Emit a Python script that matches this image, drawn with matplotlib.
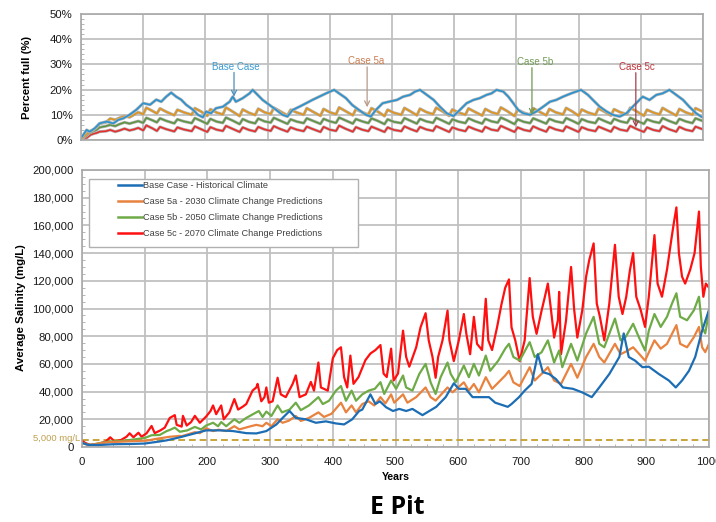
import matplotlib
matplotlib.use("Agg")
import matplotlib.pyplot as plt
import matplotlib.patheffects as pe
from matplotlib.lines import Line2D
from matplotlib.patches import Rectangle
from matplotlib.ticker import MultipleLocator, FuncFormatter
import numpy as np

plt.rcParams['font.family'] = ['Liberation Sans', 'DejaVu Sans']

# ---------------- Percent full (%) ----------------
base_pct_years = [0, 9, 14, 22, 30, 41, 52, 60, 68, 78, 89, 100, 111, 121, 129, 137, 145, 153, 161,
                  169, 180, 188, 196, 201, 209, 217, 228, 239, 244, 249, 260, 271, 276, 284, 292,
                  303, 314, 324, 332, 340, 351, 362, 372, 383, 394, 407, 415, 426, 436, 447, 458,
                  466, 474, 485, 495, 508, 518, 529, 537, 545, 556, 567, 577, 588, 599, 609, 620,
                  631, 641, 652, 660, 668, 679, 687, 695, 703, 711, 722, 732, 743, 754, 764, 775,
                  788, 804, 815, 823, 834, 845, 855, 866, 877, 887, 895, 903, 914, 925, 935, 946,
                  957, 968, 978, 989, 997, 1000]
base_pct = [0.7, 4.0, 3.3, 4.6, 6.6, 7.3, 6.6, 8.0, 8.6, 10.0, 12.0, 14.6, 14.0, 16.0, 15.2, 17.2,
            18.8, 17.2, 16.0, 14.0, 12.0, 10.0, 9.0, 11.3, 10.6, 12.6, 13.2, 15.2, 17.2, 15.2, 16.6,
            18.5, 19.9, 17.9, 15.9, 13.9, 11.9, 10.0, 9.3, 11.9, 13.2, 14.6, 15.9, 17.2, 18.5, 19.9,
            18.5, 16.6, 13.9, 11.9, 10.0, 9.3, 11.9, 14.6, 15.2, 15.9, 17.2, 17.9, 19.2, 19.9, 17.9,
            15.9, 13.2, 10.6, 9.5, 11.9, 14.6, 15.9, 16.6, 17.9, 18.5, 19.9, 19.2, 17.2, 14.6, 11.9,
            10.6, 10.0, 11.3, 13.2, 15.2, 15.9, 17.2, 18.5, 19.9, 17.9, 15.9, 13.2, 11.3, 10.0, 9.3,
            10.6, 13.2, 15.2, 17.2, 15.9, 17.9, 18.5, 19.9, 17.9, 15.9, 13.2, 10.6, 9.3, 9.0]

pct_years = [0, 5, 10, 15, 20, 25, 30, 40, 47, 55, 62, 70, 78, 85, 92,
             100, 105, 115, 122, 127, 137, 150, 155, 165, 178, 183, 193, 203, 208, 218,
             228, 233, 243, 255, 260, 270, 280, 285, 295, 305, 310, 320, 332, 337, 347,
             358, 363, 373, 385, 390, 400, 410, 415, 425, 437, 442, 452, 462, 467, 477,
             488, 493, 503, 515, 520, 530, 540, 545, 555, 566, 571, 581, 592, 597, 607,
             618, 623, 633, 645, 650, 660, 670, 675, 685, 697, 702, 712, 722, 727, 737,
             748, 753, 763, 775, 780, 790, 800, 805, 815, 827, 832, 842, 852, 857, 867,
             878, 883, 893, 905, 910, 920, 930, 935, 945, 957, 962, 972, 983, 988, 1000]
case5a_pct = [0, 1.5, 2.5, 3.5, 4.0, 5.0, 6.5, 7.0, 8.5, 8.0, 8.8, 9.5, 9.0, 10.0, 11.0,
              10.2, 12.8, 11.5, 10.5, 12.5, 11.2, 9.8, 12.0, 11.0, 10.0, 12.6, 11.3, 9.6, 12.2, 10.9,
              10.1, 12.9, 11.4, 9.5, 12.1, 10.8, 9.9, 12.4, 11.0, 10.3, 12.8, 11.4, 9.7, 12.0, 10.9,
              10.0, 12.6, 11.2, 9.6, 12.3, 11.0, 10.2, 12.9, 11.5, 9.8, 12.2, 11.0, 10.1, 12.6, 11.3,
              9.5, 12.0, 10.8, 10.0, 12.7, 11.3, 9.8, 12.4, 11.1, 10.2, 12.8, 11.4, 9.6, 12.1, 10.9,
              10.0, 12.5, 11.2, 9.7, 12.3, 11.0, 10.3, 12.9, 11.5, 9.5, 12.0, 10.8, 10.0, 12.6, 11.2,
              9.8, 12.3, 11.0, 10.1, 12.7, 11.3, 9.6, 12.1, 10.9, 10.0, 12.5, 11.2, 9.7, 12.2, 11.0,
              10.2, 12.8, 11.4, 9.6, 12.0, 10.9, 10.1, 12.7, 11.3, 9.7, 12.3, 11.0, 10.0, 12.6, 11.2]
case5b_pct = [0, 1.0, 2.0, 3.0, 3.5, 4.0, 5.0, 5.5, 6.0, 5.5, 6.3, 7.0, 6.5, 7.0, 7.5,
              6.8, 8.8, 7.8, 7.0, 8.6, 7.6, 6.6, 8.2, 7.4, 6.7, 8.7, 7.6, 6.4, 8.4, 7.3,
              6.8, 8.9, 7.8, 6.3, 8.3, 7.2, 6.6, 8.5, 7.4, 6.9, 8.8, 7.7, 6.4, 8.2, 7.3,
              6.7, 8.6, 7.6, 6.4, 8.4, 7.4, 6.8, 8.9, 7.8, 6.5, 8.3, 7.4, 6.7, 8.6, 7.6,
              6.3, 8.2, 7.2, 6.7, 8.7, 7.6, 6.5, 8.4, 7.4, 6.8, 8.8, 7.7, 6.4, 8.2, 7.3,
              6.7, 8.6, 7.5, 6.5, 8.4, 7.4, 6.9, 8.9, 7.8, 6.3, 8.2, 7.2, 6.7, 8.6, 7.6,
              6.5, 8.4, 7.4, 6.8, 8.7, 7.6, 6.4, 8.3, 7.3, 6.7, 8.6, 7.5, 6.5, 8.4, 7.4,
              6.8, 8.8, 7.7, 6.4, 8.2, 7.3, 6.8, 8.7, 7.6, 6.5, 8.4, 7.4, 6.7, 8.6, 7.5]
case5c_pct = [0, 0.5, 1.0, 2.0, 2.5, 2.8, 3.3, 3.5, 4.0, 3.3, 3.8, 4.5, 3.8, 4.2, 4.8,
              3.8, 5.8, 4.6, 3.6, 5.2, 4.3, 3.4, 5.0, 4.2, 3.5, 5.4, 4.3, 3.2, 5.1, 4.1,
              3.6, 5.6, 4.5, 3.2, 5.0, 4.0, 3.4, 5.2, 4.2, 3.6, 5.5, 4.4, 3.3, 5.0, 4.1,
              3.5, 5.3, 4.3, 3.2, 5.2, 4.1, 3.6, 5.7, 4.5, 3.3, 5.1, 4.1, 3.5, 5.3, 4.3,
              3.2, 5.0, 4.0, 3.5, 5.4, 4.3, 3.4, 5.2, 4.2, 3.6, 5.5, 4.4, 3.2, 5.0, 4.1,
              3.5, 5.3, 4.3, 3.3, 5.2, 4.1, 3.7, 5.6, 4.5, 3.2, 5.0, 4.0, 3.5, 5.4, 4.3,
              3.3, 5.2, 4.2, 3.5, 5.4, 4.3, 3.2, 5.1, 4.1, 3.5, 5.3, 4.3, 3.3, 5.2, 4.1,
              3.6, 5.6, 4.4, 3.2, 5.0, 4.0, 3.5, 5.5, 4.3, 3.3, 5.2, 4.1, 3.5, 5.3, 4.2]

# ---------------- Average salinity (thousand mg/L) ----------------
base_sal_years = [0, 10, 30, 50, 80, 100, 124, 135, 156, 177, 198, 220, 241, 262, 278, 294, 310,
                  320, 331, 341, 357, 373, 389, 405, 418, 431, 442, 447, 460, 468, 475, 485, 496,
                  506, 517, 527, 543, 554, 565, 580, 593, 601, 612, 623, 633, 649, 659, 679, 685,
                  697, 706, 717, 727, 735, 745, 756, 767, 783, 798, 813, 825, 841, 857, 864, 872,
                  882, 894, 904, 920, 936, 947, 957, 968, 978, 989, 1000]
base_sal = [3, 1.5, 1.5, 2, 2.2, 2.5, 4, 4.8, 7, 9.5, 12, 12, 11.5, 10, 9.8, 11.5, 16.3,
            21, 26, 21, 20, 17.5, 18.5, 17, 16.3, 20, 26, 27, 38, 31, 33, 28.7, 26,
            27.5, 26, 27.5, 23, 26, 29, 36, 46, 42, 42, 36, 36, 36, 32, 29, 31,
            36, 40.7, 45.5, 67, 54, 52.7, 49, 43, 42, 39.4, 36, 43, 52.7, 65, 82, 65,
            62.4, 57.6, 58, 52.7, 48, 43, 48, 55, 65, 84, 99]

case5a_sal_years = [0, 10, 20, 30, 45, 60, 80, 103, 120, 140, 156, 159, 180, 188, 198, 209, 218,
                    230, 243, 251, 265, 278, 288, 294, 302, 312, 320, 330, 341, 349, 362, 377,
                    386, 398, 413, 421, 430, 437, 442, 447, 457, 466, 476, 484, 493, 498, 512,
                    519, 533, 548, 556, 564, 583, 591, 609, 617, 625, 633, 644, 654, 665, 675,
                    681, 688, 698, 714, 722, 733, 743, 753, 764, 780, 790, 804, 816, 825, 833,
                    850, 859, 868, 879, 891, 898, 913, 923, 933, 948, 954, 965, 976, 984, 989,
                    994, 1000]
case5a_sal = [3, 1.5, 2, 2.8, 3.5, 3.8, 4.2, 4.6, 6, 7.4, 8, 7.8, 10.7, 10, 13.5, 11.5, 12.5,
              11.5, 15, 12.7, 14.5, 16, 15, 17.5, 15, 20, 17.5, 19, 22.4, 18.8, 21, 25,
              21.7, 24, 32, 25, 30, 25, 28, 31, 33, 30, 36, 31.5, 38, 32, 38,
              32, 36, 43, 36, 33.5, 43, 39.5, 46.7, 40.7, 45.5, 39.5, 50.4, 42, 47, 51.6,
              55, 46.7, 44, 57.6, 48, 52.8, 57.6, 48, 45.5, 60, 50, 65, 74.5, 65, 61,
              74.5, 67, 69, 72, 66, 62.4, 77, 71, 74.5, 88, 74.5, 72, 79.4, 86.7, 72,
              68.5, 74.5]

case5b_sal_years = [0, 10, 20, 30, 45, 60, 82, 100, 111, 124, 135, 140, 148, 156, 168, 180, 190,
                    198, 209, 217, 222, 230, 243, 251, 262, 278, 282, 288, 294, 302, 312, 319,
                    331, 341, 349, 362, 377, 384, 394, 405, 413, 421, 430, 437, 447, 457, 467,
                    476, 482, 493, 501, 512, 517, 527, 538, 548, 556, 564, 572, 583, 588, 596,
                    609, 617, 625, 633, 644, 651, 664, 675, 681, 688, 698, 714, 722, 733, 743,
                    753, 761, 766, 780, 790, 804, 816, 825, 833, 850, 859, 867, 879, 888, 898,
                    904, 913, 923, 933, 941, 948, 954, 965, 976, 984, 989, 994, 1000]
case5b_sal = [3, 1.5, 2, 3, 4, 4.2, 5.4, 6.5, 8.5, 8.7, 11.5, 12.3, 14, 11, 12, 14.5, 12.7,
              15.5, 17.5, 15, 18, 15, 20, 17.5, 21, 25, 26, 21.7, 25.6, 22.4, 30, 25,
              27, 32, 26.6, 30, 36, 31, 33.4, 40.7, 44, 33.4, 40.7, 33.4, 38, 40.7, 42,
              46.8, 38.3, 48, 42, 51.6, 43, 40.7, 52.8, 60, 46.7, 38.3, 50.4, 61, 52.8, 46.7,
              58.8, 50.4, 60, 51.6, 66, 55, 62.4, 71, 74.5, 65, 62.4, 75.7, 65, 68.4, 77,
              61, 69.7, 57.6, 74.5, 62.4, 82, 94, 74.5, 72, 92.7, 77, 79.4, 89, 79.4, 69.7,
              84, 96, 86.7, 94, 103.6, 111, 94, 91.5, 98.8, 108.5, 86.7, 82, 98]

case5c_sal_years = [0, 5, 13, 22, 29, 38, 45, 52, 62, 71, 76, 82, 90, 95, 103, 111, 116, 125, 132,
                    140, 148, 151, 159, 161, 167, 174, 180, 188, 198, 205, 209, 214, 222, 226,
                    235, 243, 249, 256, 262, 272, 278, 280, 286, 291, 294, 298, 304, 312, 317,
                    325, 336, 341, 347, 357, 365, 370, 377, 381, 392, 400, 407, 413, 418, 423,
                    428, 433, 441, 452, 460, 468, 476, 481, 486, 493, 497, 504, 512, 517, 522,
                    533, 540, 548, 553, 559, 564, 568, 575, 583, 586, 593, 601, 609, 613, 619,
                    625, 630, 638, 644, 648, 654, 662, 669, 675, 681, 685, 691, 698, 706, 714,
                    719, 725, 733, 738, 743, 748, 753, 759, 761, 764, 772, 780, 785, 790, 798,
                    804, 809, 816, 821, 826, 833, 841, 850, 856, 862, 868, 874, 879, 884, 891,
                    898, 904, 913, 918, 925, 933, 940, 944, 948, 952, 957, 962, 970, 977, 984,
                    987, 991, 995, 1000]
case5c_sal = [4.5, 3, 1.4, 1.8, 2.6, 4, 7, 4, 5, 7.4, 9.9, 7, 10.3, 7.4, 9.9, 15.2, 10, 12, 14,
              21, 23, 16, 14.7, 22.5, 15.5, 18, 22.5, 17.5, 22, 26, 30, 23.7, 30, 20,
              25, 34.6, 27, 29, 31, 40.7, 43, 45.6, 33, 36, 43, 32, 33, 50, 38,
              36, 45.6, 51.7, 36, 38, 47, 40.7, 61, 43, 40.7, 64, 70, 72, 50.5, 43,
              66, 45.6, 50.5, 62.7, 67.5, 70, 73.6, 53, 50.5, 71, 48, 53, 84, 65, 58,
              72, 86.5, 96.6, 77, 65, 50, 65, 77, 98.5, 77, 62, 77, 96, 81.7, 67,
              94, 74.5, 70, 107, 77, 70, 86.5, 103, 115, 121, 86.5, 77, 62, 77, 122,
              94, 81.7, 98.5, 108, 118, 99, 79, 91.5, 112, 67, 91.5, 130, 99, 79, 99,
              123, 135, 147, 103.6, 94, 77, 103.6, 146, 108.5, 96, 108.5, 128, 140, 108.5, 99,
              86.7, 108.5, 153, 118, 108.5, 128, 150, 162, 173, 140, 123, 118, 128, 140, 170,
              130, 108.5, 118, 115]

guideline_mgL = 5000
pct_ticks = [0, 10, 20, 30, 40, 50]
sal_ticks = [0, 20000, 40000, 60000, 80000, 100000, 120000, 140000, 160000, 180000, 200000]
year_ticks = [0, 100, 200, 300, 400, 500, 600, 700, 800, 900, 1000]
legend_labels = ["Base Case - Historical Climate",
                 "Case 5a - 2030 Climate Change Predictions",
                 "Case 5b - 2050 Climate Change Predictions",
                 "Case 5c - 2070 Climate Change Predictions"]
case_names = ["Base Case", "Case 5a", "Case 5b", "Case 5c"]
# where each case label sits and where its arrow points (year, %)
label_pos = [(249, 29.1), (458, 31.3), (730, 31.0), (894, 29.0)]
arrow_x = [246, 460, 725, 892]
arrow_tip = [17.2, 13.0, 10.0, 5.0]

top_colors = ['#2a93cf', '#e0951f', '#5f9444', '#e63030']
bot_colors = ['#1c6db4', '#e8823e', '#6eab47', '#ff1010']
label_colors = ['#3a9ad0', '#c97d52', '#6f9a55', '#c0343a']
arrow_colors = ['#4a8fb8', '#b89a8a', '#6f9a55', '#a04050']

grid_c = '#c0c0c0'

fig = plt.figure(figsize=(7.16, 5.22), dpi=100)
ax1 = fig.add_axes([81/716, 1-140/522, (703-81)/716, (140-14)/522])
ax2 = fig.add_axes([82/716, 1-447/522, (709-82)/716, (447-170)/522])

for ax in (ax1, ax2):
    ax.set_xlim(0, 1000)
    ax.set_xticks(year_ticks)
    ax.grid(True, which='major', color=grid_c, lw=1.3)
    ax.set_axisbelow(True)
    for s in ax.spines.values():
        s.set_color('#a8a8a8')
        s.set_linewidth(1.2)
    ax.tick_params(which='major', length=0, labelsize=8.2, pad=6, colors='#1a1a1a')
    ax.tick_params(which='minor', length=2.5, direction='in', color='#a8a8a8', left=True)

# top chart: lines with a soft grey edge
halo = [pe.Stroke(linewidth=2.2, foreground='#b4b4b4'), pe.Normal()]
top_series = [(base_pct_years, base_pct), (pct_years, case5a_pct),
              (pct_years, case5b_pct), (pct_years, case5c_pct)]
for (xs, ys), c in zip(reversed(top_series), reversed(top_colors)):
    ax1.plot(xs, ys, color=c, lw=1.2, path_effects=halo)
ax1.set_ylim(0, 50)
ax1.set_yticks(pct_ticks)
ax1.set_yticklabels([f"{t}%" for t in pct_ticks])
ax1.yaxis.set_minor_locator(MultipleLocator(2))
ax1.tick_params(axis='x', labelbottom=False)

for name, (lx, ly), axx, tip, tc, ac in zip(case_names, label_pos, arrow_x, arrow_tip,
                                           label_colors, arrow_colors):
    ax1.text(lx, ly, name, ha='center', va='center', fontsize=7, color=tc, zorder=6)
    ax1.annotate('', xy=(axx, tip), xytext=(axx, ly - 2.3),
                 arrowprops=dict(arrowstyle='->', color=ac, lw=0.9,
                                 shrinkA=0, shrinkB=0, mutation_scale=9), zorder=6)

fig.text(27/716, 1-77/522, "Percent full (%)", rotation=90, ha='center', va='center',
         fontsize=8.2, fontweight='bold')

# bottom chart
bot_series = [(base_sal_years, base_sal), (case5a_sal_years, case5a_sal),
              (case5b_sal_years, case5b_sal), (case5c_sal_years, case5c_sal)]
for (xs, ys), c in zip(reversed(bot_series), reversed(bot_colors)):
    ax2.plot(xs, np.array(ys) * 1000, color=c, lw=1.6)
ax2.axhline(guideline_mgL, color='#c9a43c', lw=1.4, ls=(0, (3.5, 2)), zorder=1)
ax2.set_ylim(0, 200000)
ax2.set_yticks(sal_ticks)
ax2.yaxis.set_major_formatter(FuncFormatter(lambda v, p: f"{int(v):,}"))
ax2.yaxis.set_minor_locator(MultipleLocator(5000))
ax2.xaxis.set_minor_locator(MultipleLocator(25))
ax2.tick_params(axis='x', which='minor', length=2.5, direction='in', bottom=True)
ax2.tick_params(axis='x', pad=7)
ax2.text(-0.002, guideline_mgL + 1000, "5,000 mg/L", transform=ax2.get_yaxis_transform(),
         ha='right', va='center', fontsize=6.8, color='#c0a050', clip_on=False)

fig.text(21/716, 1-308/522, "Average Salinity (mg/L)", rotation=90, ha='center', va='center',
         fontsize=8.2, fontweight='bold')
fig.text(396/716, 1-477/522, "Years", ha='center', va='center', fontsize=7.6, fontweight='bold')
fig.text(397/716, 1-507/522, "E Pit", ha='center', va='center', fontsize=18,
         fontweight='bold', family=['Open Sans', 'DejaVu Sans'])

# legend box
ax2.add_patch(Rectangle(((89-82)/627, (447-247)/277), (358-89)/627, (247-179)/277,
                        transform=ax2.transAxes, facecolor='white', edgecolor='#b0b0b0',
                        lw=1.0, zorder=4))
handles = [Line2D([], [], color=c, lw=1.8) for c in bot_colors]
leg = ax2.legend(handles, legend_labels, loc='upper left',
                 bbox_to_anchor=((118-82)/627, (447-181)/277), frameon=False,
                 fontsize=6.6, handlelength=2.6, handletextpad=0.1, labelspacing=0.78,
                 borderaxespad=0, borderpad=0)
leg.set_zorder(5)
for t in leg.get_texts():
    t.set_color('#404040')

fig.savefig("out.png", dpi=100)
